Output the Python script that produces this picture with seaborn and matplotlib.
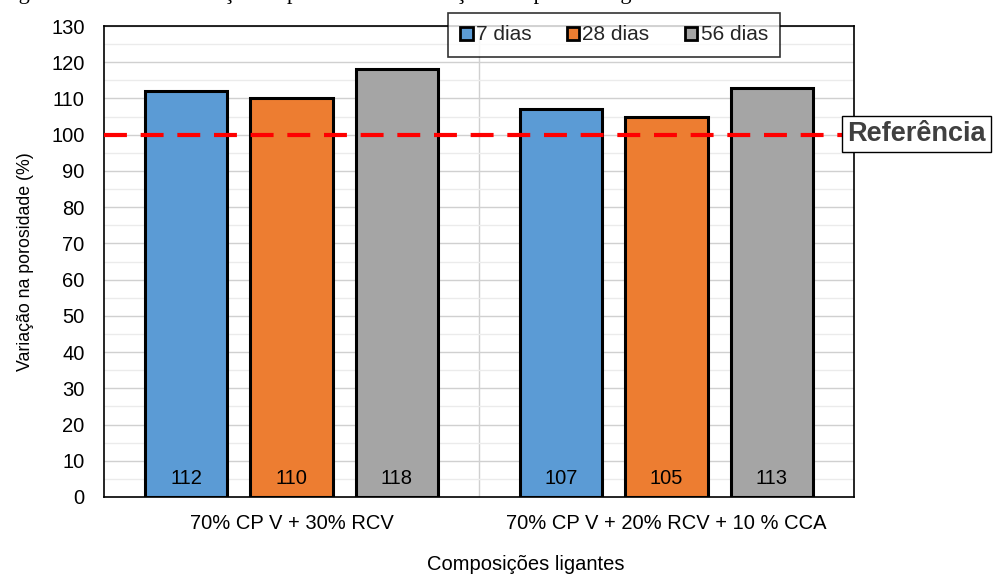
import matplotlib
matplotlib.use("Agg")
import matplotlib.pyplot as plt
import seaborn as sns
import pandas as pd
from matplotlib.patches import Patch
from matplotlib.ticker import MultipleLocator

# Data
composicoes = ["70% CP V + 30% RCV", "70% CP V + 20% RCV + 10 % CCA"]
idades = ["7 dias", "28 dias", "56 dias"]
valores_7 = [112, 107]
valores_28 = [110, 105]
valores_56 = [118, 113]
referencia = 100
cores = ["#5B9BD5", "#ED7D31", "#A5A5A5"]

df = pd.DataFrame({
    "Composição": composicoes * 3,
    "Idade": [idades[0]] * 2 + [idades[1]] * 2 + [idades[2]] * 2,
    "Valor": valores_7 + valores_28 + valores_56,
})

sns.set_theme(style="white")
plt.rcParams["font.family"] = ["Liberation Sans", "DejaVu Sans"]

fig = plt.figure(figsize=(9.97, 5.77), dpi=100)
ax = fig.add_axes([104 / 997, 1 - 497 / 577, 750 / 997, 471 / 577])

sns.barplot(data=df, x="Composição", y="Valor", hue="Idade", hue_order=idades,
            palette=cores, width=0.843, gap=0.217, saturation=1,
            edgecolor="black", linewidth=2.2, ax=ax, legend=False, zorder=3)

ax.set_ylim(0, 130)
ax.set_xlim(-0.5, 1.5)
ax.yaxis.set_major_locator(MultipleLocator(10))
ax.yaxis.set_minor_locator(MultipleLocator(5))
ax.grid(axis="y", which="major", color="#D0D0D0", linewidth=1.0, zorder=0)
ax.grid(axis="y", which="minor", color="#EBEBEB", linewidth=1.0, zorder=0)
ax.axvline(0.5, color="#D0D0D0", linewidth=1.0, zorder=0)
ax.set_axisbelow(True)

for s in ax.spines.values():
    s.set_color("black")
    s.set_linewidth(1.2)

ax.tick_params(axis="y", which="both", length=0, labelsize=14.5, colors="black", pad=14)
ax.tick_params(axis="x", which="both", length=0, labelsize=14.5, colors="black", pad=12)
ax.set_ylabel("Variação na porosidade (%)", fontsize=12.8, color="black", labelpad=12)
ax.set_xlabel("Composições ligantes", fontsize=14.5, color="black")
ax.xaxis.set_label_coords((526 - 104) / 750, -(565 - 497) / 471)
ax.xaxis.label.set_va("center")

# Value labels at the base of each bar
for cont in ax.containers:
    for bar in cont:
        h = bar.get_height()
        ax.text(bar.get_x() + bar.get_width() / 2, 2.5, f"{h:.0f}",
                ha="center", va="bottom", fontsize=14.5, color="black", zorder=5)

# Reference line
ax.axhline(referencia, color="#FF0000", linewidth=3, linestyle=(0, (5.5, 3.3)), zorder=4,
           clip_on=False)
fig.text(847 / 997, 1 - 134 / 577, "Referência", fontsize=19.5, fontweight="bold",
         color="#404040", ha="left", va="center",
         bbox=dict(boxstyle="square,pad=0.2", facecolor="white", edgecolor="black", linewidth=1.0))

# Legend
handles = [Patch(facecolor=c, edgecolor="black", linewidth=2, label=l) for c, l in zip(cores, idades)]
leg = fig.legend(handles=handles, loc="center", bbox_to_anchor=(614 / 997, 1 - 35 / 577),
                 ncol=3, frameon=True, fancybox=False, fontsize=15, handlelength=0.6,
                 handleheight=0.6, handletextpad=0.15, columnspacing=1.7,
                 borderpad=0.6, borderaxespad=0)
leg.get_frame().set_edgecolor("black")
leg.get_frame().set_linewidth(1.2)

# Caption line at the top edge
fig.text(0.0, 1 + 1.5 / 577, "Figura 30 – GCV – Variação na porosidade em relação à respectiva argamassa de referência",
         fontsize=16, family=["Liberation Serif", "DejaVu Serif"], color="black",
         ha="left", va="baseline")

fig.savefig("out.png", dpi=100)
